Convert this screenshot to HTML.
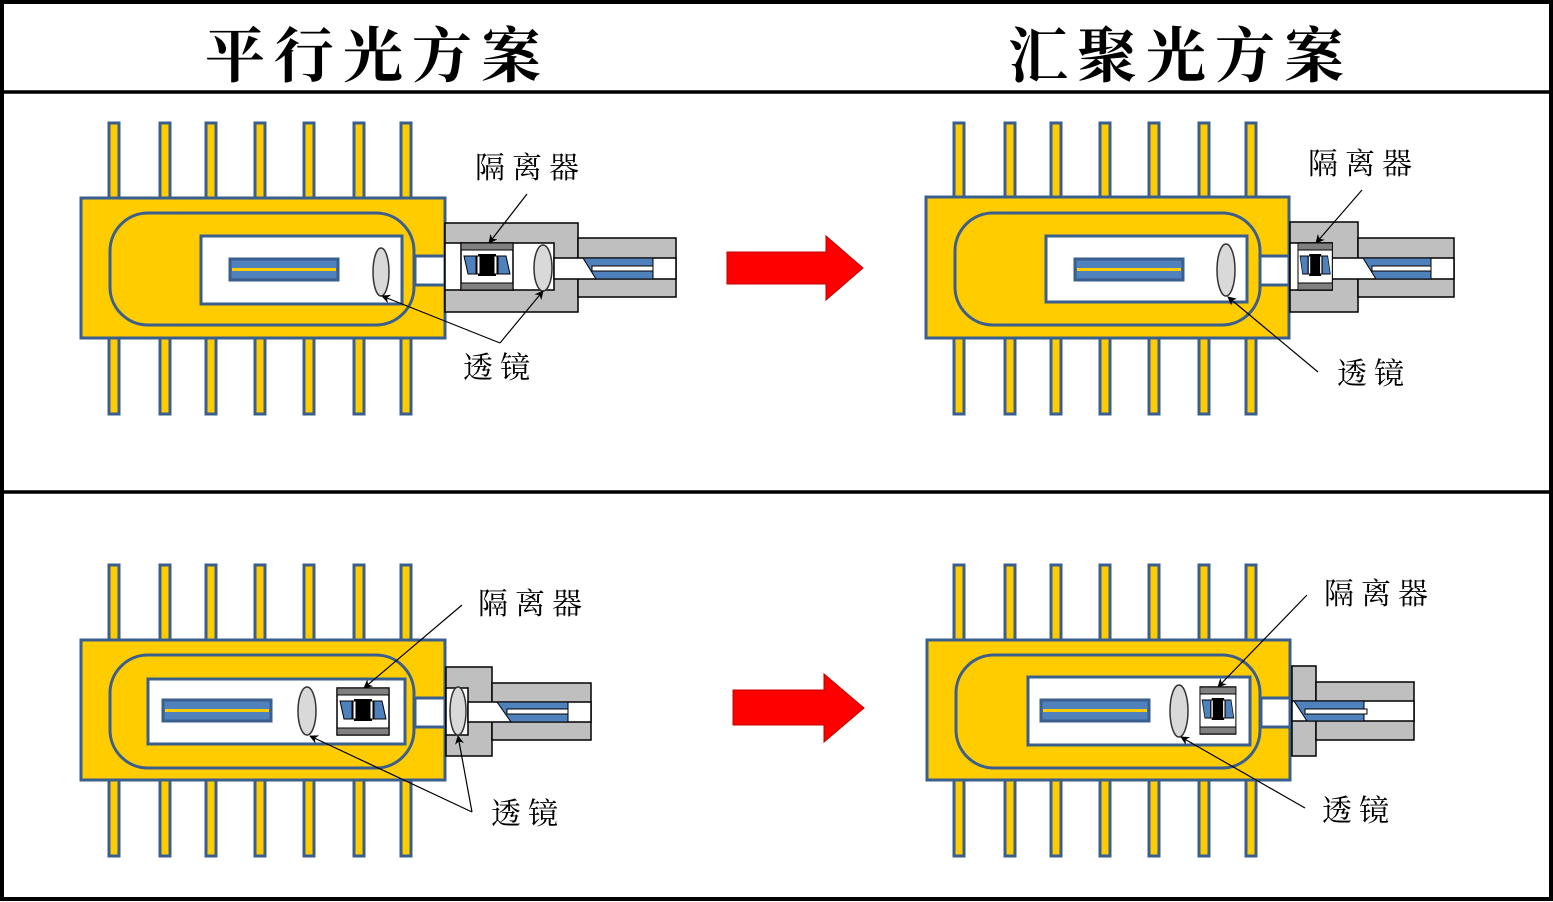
<!DOCTYPE html>
<html><head><meta charset="utf-8"><style>
html,body{margin:0;padding:0;background:#fff;}
svg{display:block;}
.t{font-family:"Liberation Serif","Noto Serif CJK SC",serif;font-weight:bold;font-size:60px;letter-spacing:9px;fill:#000;}
.l{font-family:"Liberation Serif","Noto Serif CJK SC",serif;font-size:30px;letter-spacing:7px;fill:#000;}
</style></head><body>
<svg width="1553" height="902" viewBox="0 0 1553 902" xmlns="http://www.w3.org/2000/svg">
<defs>
<marker id="ar" viewBox="0 0 10 10" refX="9" refY="5" markerWidth="9" markerHeight="9" orient="auto-start-reverse" markerUnits="userSpaceOnUse"><path d="M0,0 L10,5 L0,10 L3,5 Z" fill="#000"/></marker>
<g id="pins">
<rect x="109" y="0" width="10" height="76" fill="#FFCC00" stroke="#3A5F8F" stroke-width="3"/>
<rect x="160" y="0" width="10" height="76" fill="#FFCC00" stroke="#3A5F8F" stroke-width="3"/>
<rect x="206" y="0" width="10" height="76" fill="#FFCC00" stroke="#3A5F8F" stroke-width="3"/>
<rect x="255" y="0" width="10" height="76" fill="#FFCC00" stroke="#3A5F8F" stroke-width="3"/>
<rect x="304" y="0" width="10" height="76" fill="#FFCC00" stroke="#3A5F8F" stroke-width="3"/>
<rect x="354" y="0" width="10" height="76" fill="#FFCC00" stroke="#3A5F8F" stroke-width="3"/>
<rect x="401" y="0" width="10" height="76" fill="#FFCC00" stroke="#3A5F8F" stroke-width="3"/>
</g>
<g id="chip">
<rect x="0" y="0" width="108" height="21" fill="#4F81BD" stroke="#3A5F8F" stroke-width="3"/>
<rect x="2" y="9" width="104" height="3" fill="#FFCC00"/>
</g>
<g id="iso">
<rect x="0" y="0" width="52" height="47" fill="#fff" stroke="#000" stroke-width="1.5"/>
<rect x="0" y="0" width="52" height="7" fill="#808080" stroke="#000" stroke-width="1"/>
<rect x="0" y="40" width="52" height="7" fill="#808080" stroke="#000" stroke-width="1"/>
<polygon points="3,13 15,13 15,31 7,31" fill="#4F81BD" stroke="#000" stroke-width="1"/>
<rect x="17" y="11" width="18" height="22" fill="#000"/>
<rect x="16" y="13" width="3" height="18" fill="#fff" stroke="#000" stroke-width="1"/>
<rect x="33" y="13" width="3" height="18" fill="#fff" stroke="#000" stroke-width="1"/>
<polygon points="37,13 45,13 49,31 37,31" fill="#4F81BD" stroke="#000" stroke-width="1"/>
</g>
</defs>

<rect x="2" y="2" width="1549" height="897" fill="none" stroke="#000" stroke-width="4"/>
<line x1="2" y1="92" x2="1551" y2="92" stroke="#000" stroke-width="3.5"/>
<line x1="2" y1="492" x2="1551" y2="492" stroke="#000" stroke-width="3.5"/>
<text class="t" x="205" y="77">平行光方案</text>
<text class="t" x="1008" y="77">汇聚光方案</text>

<use href="#pins" x="0" y="123"/>
<use href="#pins" x="0" y="338"/>
<rect x="81" y="198" width="364" height="140" fill="#FFCC00" stroke="#3A5F8F" stroke-width="3"/>
<rect x="110" y="213" width="304" height="112" rx="38" fill="none" stroke="#3A5F8F" stroke-width="3"/>
<rect x="201" y="236" width="201" height="68" fill="#fff" stroke="#3A5F8F" stroke-width="3"/>
<use href="#chip" x="230" y="259"/>
<ellipse cx="381" cy="272" rx="8" ry="24" fill="#D9D9D9" stroke="#333" stroke-width="1.5"/>
<rect x="415" y="256" width="30" height="29" fill="#fff" stroke="#3A5F8F" stroke-width="3"/>
<rect x="445" y="223" width="133" height="89" fill="#BFBFBF" stroke="#000" stroke-width="1.5"/>
<rect x="578" y="238" width="98" height="59" fill="#BFBFBF" stroke="#000" stroke-width="1.5"/>
<rect x="445" y="243" width="109" height="47" fill="#fff" stroke="#000" stroke-width="1.5"/>
<rect x="554" y="258" width="122" height="21" fill="#fff" stroke="#000" stroke-width="1.5"/>
<use href="#iso" x="461" y="243"/>
<ellipse cx="543" cy="268" rx="9" ry="23" fill="#D9D9D9" stroke="#333" stroke-width="1.5"/>
<polygon points="583,258 653,258 653,279 596,279" fill="#4F81BD" stroke="#000" stroke-width="1"/>
<rect x="592" y="266" width="61" height="5" fill="#fff" stroke="#000" stroke-width="1"/>
<text class="l" x="475" y="178">隔离器</text>
<line x1="527" y1="194" x2="489" y2="243" stroke="#000" stroke-width="1.2" marker-end="url(#ar)"/>
<text class="l" x="463" y="378">透镜</text>
<line x1="500" y1="343" x2="382" y2="296" stroke="#000" stroke-width="1.2" marker-end="url(#ar)"/>
<line x1="500" y1="343" x2="543" y2="291" stroke="#000" stroke-width="1.2" marker-end="url(#ar)"/>

<polygon points="727,252 826,252 826,236 863,268 826,300 826,284 727,284" fill="#FF0000" stroke="#C00000" stroke-width="1"/>

<use href="#pins" x="845" y="123"/>
<use href="#pins" x="845" y="338"/>
<rect x="926" y="197" width="363" height="141" fill="#FFCC00" stroke="#3A5F8F" stroke-width="3"/>
<rect x="955" y="213" width="305" height="112" rx="38" fill="none" stroke="#3A5F8F" stroke-width="3"/>
<rect x="1046" y="236" width="201" height="66" fill="#fff" stroke="#3A5F8F" stroke-width="3"/>
<use href="#chip" x="1075" y="259"/>
<ellipse cx="1226" cy="270" rx="9" ry="26" fill="#D9D9D9" stroke="#333" stroke-width="1.5"/>
<rect x="1260" y="256" width="29" height="29" fill="#fff" stroke="#3A5F8F" stroke-width="3"/>
<rect x="1290" y="222" width="68" height="90" fill="#BFBFBF" stroke="#000" stroke-width="1.5"/>
<rect x="1358" y="238" width="96" height="59" fill="#BFBFBF" stroke="#000" stroke-width="1.5"/>
<rect x="1290" y="243" width="42" height="47" fill="#fff" stroke="#000" stroke-width="1.5"/>
<rect x="1332" y="258" width="122" height="21" fill="#fff" stroke="#000" stroke-width="1.5"/>
<g transform="translate(1298,243) scale(0.66,1)"><use href="#iso"/></g>
<polygon points="1363,258 1431,258 1431,279 1376,279" fill="#4F81BD" stroke="#000" stroke-width="1"/>
<rect x="1372" y="266" width="59" height="5" fill="#fff" stroke="#000" stroke-width="1"/>
<text class="l" x="1308" y="174">隔离器</text>
<line x1="1362" y1="190" x2="1316" y2="243" stroke="#000" stroke-width="1.2" marker-end="url(#ar)"/>
<text class="l" x="1337" y="384">透镜</text>
<line x1="1318" y1="372" x2="1228" y2="297" stroke="#000" stroke-width="1.2" marker-end="url(#ar)"/>

<use href="#pins" x="0" y="565"/>
<use href="#pins" x="0" y="780"/>
<rect x="81" y="640" width="364" height="140" fill="#FFCC00" stroke="#3A5F8F" stroke-width="3"/>
<rect x="110" y="655" width="304" height="113" rx="38" fill="none" stroke="#3A5F8F" stroke-width="3"/>
<rect x="148" y="679" width="257" height="65" fill="#fff" stroke="#3A5F8F" stroke-width="3"/>
<use href="#chip" x="163" y="700"/>
<ellipse cx="307" cy="711" rx="9" ry="24" fill="#D9D9D9" stroke="#333" stroke-width="1.5"/>
<use href="#iso" x="337" y="688"/>
<rect x="415" y="698" width="30" height="29" fill="#fff" stroke="#3A5F8F" stroke-width="3"/>
<rect x="446" y="667" width="46" height="89" fill="#BFBFBF" stroke="#000" stroke-width="1.5"/>
<rect x="492" y="683" width="99" height="57" fill="#BFBFBF" stroke="#000" stroke-width="1.5"/>
<rect x="446" y="688" width="22" height="47" fill="#fff" stroke="#000" stroke-width="1.5"/>
<rect x="468" y="702" width="123" height="20" fill="#fff" stroke="#000" stroke-width="1.5"/>
<ellipse cx="458" cy="711" rx="8" ry="24" fill="#D9D9D9" stroke="#333" stroke-width="1.5"/>
<polygon points="497,702 568,702 568,722 511,722" fill="#4F81BD" stroke="#000" stroke-width="1"/>
<rect x="507" y="709" width="61" height="5" fill="#fff" stroke="#000" stroke-width="1"/>
<text class="l" x="478" y="614">隔离器</text>
<line x1="462" y1="605" x2="364" y2="688" stroke="#000" stroke-width="1.2" marker-end="url(#ar)"/>
<text class="l" x="491" y="824">透镜</text>
<line x1="472" y1="812" x2="310" y2="736" stroke="#000" stroke-width="1.2" marker-end="url(#ar)"/>
<line x1="472" y1="812" x2="458" y2="736" stroke="#000" stroke-width="1.2" marker-end="url(#ar)"/>

<polygon points="733,690 824,690 824,674 864,708 824,742 824,725 733,725" fill="#FF0000" stroke="#C00000" stroke-width="1"/>

<use href="#pins" x="845" y="565"/>
<use href="#pins" x="845" y="780"/>
<rect x="927" y="640" width="363" height="140" fill="#FFCC00" stroke="#3A5F8F" stroke-width="3"/>
<rect x="956" y="655" width="304" height="113" rx="38" fill="none" stroke="#3A5F8F" stroke-width="3"/>
<rect x="1028" y="677" width="222" height="68" fill="#fff" stroke="#3A5F8F" stroke-width="3"/>
<use href="#chip" x="1041" y="700"/>
<ellipse cx="1179" cy="711" rx="9" ry="26" fill="#D9D9D9" stroke="#333" stroke-width="1.5"/>
<g transform="translate(1200,687) scale(0.69,1)"><use href="#iso"/></g>
<rect x="1261" y="698" width="29" height="29" fill="#fff" stroke="#3A5F8F" stroke-width="3"/>
<rect x="1292" y="666" width="24" height="90" fill="#BFBFBF" stroke="#000" stroke-width="1.5"/>
<rect x="1316" y="682" width="98" height="58" fill="#BFBFBF" stroke="#000" stroke-width="1.5"/>
<rect x="1292" y="701" width="122" height="20" fill="#fff" stroke="#000" stroke-width="1.5"/>
<polygon points="1294,701 1364,701 1364,721 1307,721" fill="#4F81BD" stroke="#000" stroke-width="1"/>
<rect x="1305" y="709" width="62" height="5" fill="#fff" stroke="#000" stroke-width="1"/>
<text class="l" x="1324" y="604">隔离器</text>
<line x1="1307" y1="595" x2="1218" y2="687" stroke="#000" stroke-width="1.2" marker-end="url(#ar)"/>
<text class="l" x="1322" y="821">透镜</text>
<line x1="1305" y1="808" x2="1181" y2="737" stroke="#000" stroke-width="1.2" marker-end="url(#ar)"/>
</svg>
</body></html>
